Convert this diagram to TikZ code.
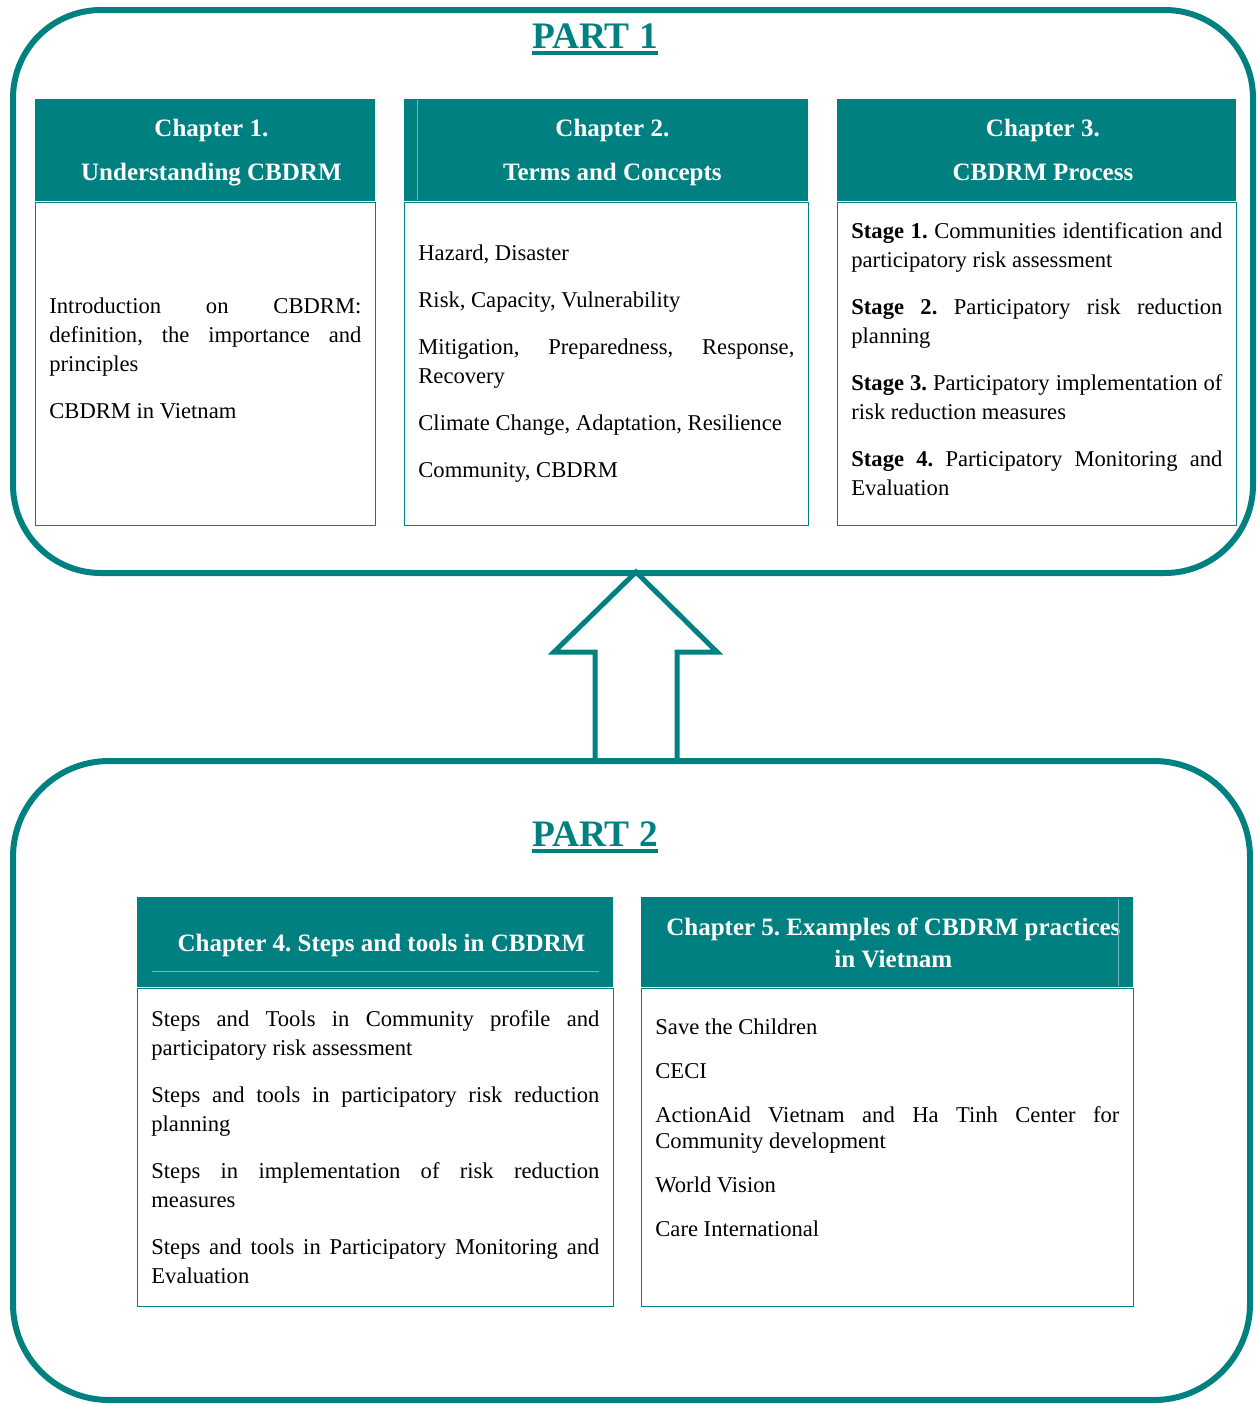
\documentclass[tikz,border=0pt]{standalone}
\usepackage{fontspec}
\setmainfont{Liberation Serif}
\usetikzlibrary{positioning}

\definecolor{partteal}{RGB}{0,128,128}
\newcommand{\thickul}[1]{\leavevmode\vtop{\hbox{#1}\kern1.5pt\hrule height 2pt}}
\frenchspacing

\tikzset{
  partframe/.style={draw=partteal, line width=3pt},
  parttitle/.style={text=partteal, anchor=base, font=\bfseries\fontsize{18.7}{22}\selectfont},
  uparrow/.style={draw=partteal, line width=2.5pt, line join=miter},
  chaphead/.style={fill=partteal, inner sep=0pt, anchor=north west},
  headtitle/.style={text=white, align=center, inner sep=0pt, font=\bfseries\fontsize{12.5}{22}\selectfont},
  chapbody/.style={draw=partteal, line width=0.75pt, align=justify, inner xsep=7pt, inner ysep=0pt,
    font=\fontsize{11.3}{14.5}\selectfont,
    execute at begin node={\setlength{\parindent}{0pt}\setlength{\parskip}{9pt}}},
  seam/.style={draw=partteal!55!white, line width=0.4pt}
}

\begin{document}
\begin{tikzpicture}[x=0.5pt,y=0.5pt,yscale=-1]
  \useasboundingbox (0,0) rectangle (1259,1404);

  % the two parts
  \draw [partframe, rounded corners=44pt] (13,10) rectangle (1253,573);
  \draw [partframe, rounded corners=48pt] (13,761) rectangle (1250,1400);
  \node [parttitle] (part1) at (595,48) {\thickul{PART 1}};
  \node [parttitle] (part2) at (595,846) {\thickul{PART 2}};

  % part 2 leads up to part 1
  \draw [uparrow] (636,572) -- (717,652) -- (677,652) -- (677,761) -- (595,761) -- (595,652) -- (554,652) -- cycle;

  % part 1 chapters
  \node [chaphead, minimum width=170pt, minimum height=51pt] (ch1head) at (35,99) {};
  \node [headtitle] (ch1title) at ([xshift=3pt,yshift=1pt]ch1head.center) {Chapter 1.\\Understanding CBDRM};
  \node [chapbody, below=0pt of ch1head, text width=156pt, minimum height=161.5pt] (ch1body)
    {Introduction on CBDRM:\linebreak definition, the importance and\linebreak principles\par
     CBDRM in Vietnam\par\vspace{-18pt}\mbox{}};

  \node [chaphead, minimum width=202pt, minimum height=51pt] (ch2head) at (404,99) {};
  \node [headtitle] (ch2title) at ([xshift=3pt,yshift=1pt]ch2head.center) {Chapter 2.\\Terms and Concepts};
  \node [chapbody, below=0pt of ch2head, text width=188pt, minimum height=161.5pt] (ch2body)
    {Hazard, Disaster\par
     Risk, Capacity, Vulnerability\par
     Mitigation, Preparedness, Response,\linebreak Recovery\par
     Climate Change, Adaptation, Resilience\par
     Community, CBDRM};

  \node [chaphead, minimum width=199.5pt, minimum height=51pt] (ch3head) at (837,99) {};
  \node [headtitle] (ch3title) at ([xshift=3pt]ch3head.center) {Chapter 3.\\CBDRM Process};
  \node [chapbody, below=0pt of ch3head, text width=185.5pt, minimum height=161.5pt] (ch3body)
    {\textbf{Stage 1.} Communities identification and\linebreak participatory risk assessment\par
     \textbf{Stage 2.} Participatory risk reduction\linebreak planning\par
     \textbf{Stage 3.} Participatory implementation of\linebreak risk reduction measures\par
     \textbf{Stage 4.} Participatory Monitoring and\linebreak Evaluation\par\vspace{-18pt}\mbox{}};

  % part 2 chapters
  \node [chaphead, minimum width=238pt, minimum height=45pt] (ch4head) at (137,897) {};
  \node [headtitle] (ch4title) at ([xshift=3pt,yshift=1.5pt]ch4head.center) {Chapter 4. Steps and tools in CBDRM};
  \node [chapbody, below=0pt of ch4head, text width=224pt, minimum height=159pt] (ch4body)
    {Steps and Tools in Community profile and\linebreak participatory risk assessment\par
     Steps and tools in participatory risk reduction\linebreak planning\par
     Steps in implementation of risk reduction\linebreak measures\par
     Steps and tools in Participatory Monitoring and\linebreak Evaluation};

  \node [chaphead, minimum width=246pt, minimum height=45pt] (ch5head) at (641,897) {};
  \node [headtitle, font=\bfseries\fontsize{12.5}{16}\selectfont] (ch5title) at ([xshift=3pt]ch5head.center)
    {Chapter 5. Examples of CBDRM practices\\in Vietnam};
  \node [chapbody, below=0pt of ch5head, text width=232pt, minimum height=159pt, font=\fontsize{11.3}{13}\selectfont] (ch5body)
    {Save the Children\par
     CECI\par
     ActionAid Vietnam and Ha Tinh Center for\linebreak Community development\par
     World Vision\par
     Care International\par\vspace{-2pt}\mbox{}};

  % faint cell seams inside the headers
  \draw [seam] (417,100) -- (417,200);
  \draw [seam] (152,971) -- (599,971);
  \draw [seam] (1118,899) -- (1118,986);
\end{tikzpicture}
\end{document}
